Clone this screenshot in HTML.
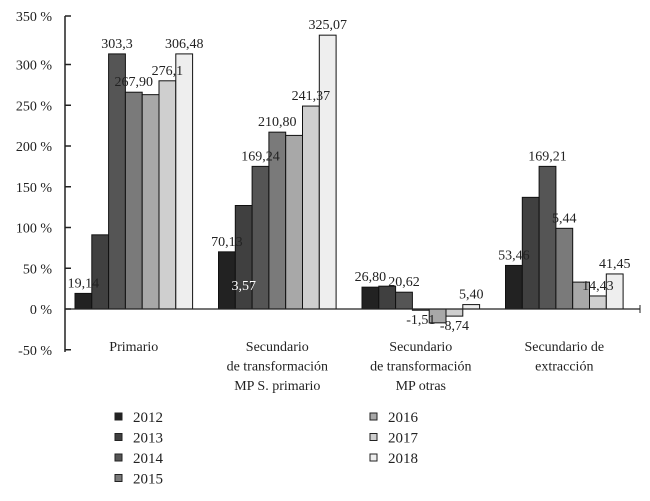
<!DOCTYPE html>
<html><head><meta charset="utf-8"><style>
body{margin:0;background:#fff;}
svg text{font-family:"Liberation Serif",serif;fill:#222;}
</style></head><body>
<svg id="chart" width="650" height="496" xmlns="http://www.w3.org/2000/svg"></svg>
<script>
const categories = [["Primario"],["Secundario","de transformación","MP S. primario"],["Secundario","de transformación","MP otras"],["Secundario de","extracción"]];
const years = ["2012","2013","2014","2015","2016","2017","2018"];
const v2012 = [19.14, 70.13, 26.80, 53.46];
const v2013 = [91, 127, 28, 137];
const v2014 = [313, 175, 20.62, 175];
const v2015 = [266, 217, -1.51, 99];
const v2016 = [263, 213, -17, 33];
const v2017 = [280, 249, -8.74, 16];
const v2018 = [313, 336, 5.40, 43];
const labels2012 = ["19,14","70,13","26,80","53,46"];
const labels2013 = ["","3,57","",""];
const labels2014 = ["303,3","169,24","20,62","169,21"];
const labels2015 = ["267,90","210,80","-1,51","5,44"];
const labels2016 = ["","","",""];
const labels2017 = ["276,1","241,37","-8,74","14,43"];
const labels2018 = ["306,48","325,07","5,40","41,45"];
const yTicks = [-50,0,50,100,150,200,250,300,350];
const series=[v2012,v2013,v2014,v2015,v2016,v2017,v2018];
const labs=[labels2012,labels2013,labels2014,labels2015,labels2016,labels2017,labels2018];
const colors=["#222","#404040","#555","#7a7a7a","#a8a8a8","#cfcfcf","#eeeeee"];
const svg=document.getElementById('chart');
const NS="http://www.w3.org/2000/svg";
function y(v){return 309 - v*0.815;}
function gx(g){return 75 + g*143.5;}
const bw=16.8;
function mk(tag,attrs,parent){const e=document.createElementNS(NS,tag);for(const k in attrs)e.setAttribute(k,attrs[k]);(parent||svg).appendChild(e);return e;}
let ax=mk('line',{x1:65,y1:16,x2:65,y2:352,stroke:'#222','stroke-width':1.5});


yTicks.forEach(t=>{
  const ty = t===350?16:y(t);
  let l=mk('line',{x1:65,y1:ty,x2:71,y2:ty,stroke:'#222','stroke-width':1.5});
  
  
  let tx=mk('text',{x:52,y:ty+5,'text-anchor':'end','font-size':14});
  tx.textContent=t+" %";
  
  
});
series.forEach((s,si)=>{
  s.forEach((v,g)=>{
    const x=gx(g)+si*bw;
    const top=Math.min(y(v),y(0)), h=Math.abs(y(v)-y(0));
    let r=mk('rect',{x:x,y:top,width:bw,height:h,fill:colors[si],stroke:'#111','stroke-width':1});
    
    
  });
});
series.forEach((s,si)=>{
  s.forEach((v,g)=>{
    const x=gx(g)+si*bw;
    const lt=labs[si][g];
    if(lt){
      let ly = v>=0 ? y(v)-6 : y(v)+14;
      let fill='#222';
      if(si===1&&g===1){ly=y(0)-19;fill='#fff';}
      let t=mk('text',{x:x+bw/2,y:ly,'text-anchor':'middle','font-size':14,style:'fill:'+fill});
      t.textContent=lt;
      
      
    }
  });
});
let xa=mk('line',{x1:65,y1:309,x2:640,y2:309,stroke:'#222','stroke-width':1.2});


mk('line',{x1:640,y1:305,x2:640,y2:313,stroke:'#222'});
categories.forEach((c,g)=>{
  c.forEach((ln,i)=>{
    let t=mk('text',{x:gx(g)+3.5*bw,y:351+i*19.5,'text-anchor':'middle','font-size':14});
    t.textContent=ln;
    
    
  });
});
years.forEach((yr,i)=>{
  const col=i<4?0:1, row=i<4?i:i-4;
  const lx=col?373:118, ly=417+row*20.5;
  let r=mk('rect',{x:lx-3,y:ly-4,width:7,height:7,fill:colors[i],stroke:'#222','stroke-width':1});
  
  
  let t=mk('text',{x:lx+15,y:ly+5,'font-size':15});
  t.textContent=yr;
  
  
});
</script>
</body></html>
